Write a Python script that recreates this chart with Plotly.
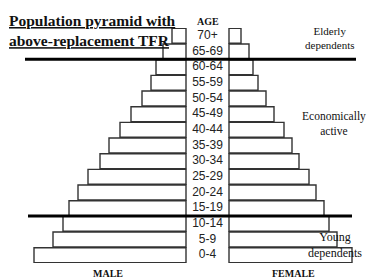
import plotly.graph_objects as go

ages = ["0-4", "5-9", "10-14", "15-19", "20-24", "25-29", "30-34", "35-39",
        "40-44", "45-49", "50-54", "55-59", "60-64", "65-69", "70+"]
male = [152, 133, 123, 117, 108, 98, 86, 77, 66, 55, 44, 35, 30, 23, 14]
female = [123, 108, 100, 95, 87, 80, 70, 63, 55, 45, 37, 29, 24, 20, 12]

rows = list(range(len(ages)))
G = 21.5  # half-width of the central label column

W, H = 369, 279
T, B = 28, 16
PH = H - T - B


def py(px):
    """pixel row from top -> paper y (paper = plot area)"""
    return (H - B - px) / PH


fig = go.Figure()
fig.add_trace(go.Bar(
    y=rows, x=[-v for v in male], base=-G, orientation="h",
    marker=dict(color="white", line=dict(color="#333", width=1.4)),
    hoverinfo="skip"))
fig.add_trace(go.Bar(
    y=rows, x=female, base=G, orientation="h",
    marker=dict(color="white", line=dict(color="#333", width=1.4)),
    hoverinfo="skip"))
fig.add_trace(go.Scatter(
    x=[0] * len(ages), y=rows, mode="text", text=ages,
    textfont=dict(family="Liberation Sans, Arial", size=12, color="#222"),
    hoverinfo="skip"))

serif = "Liberation Serif, Times New Roman"


def note(x, ypx, text, size, xref="x", xanchor="center", align="center"):
    return dict(x=x, y=py(ypx), xref=xref, yref="paper", xanchor=xanchor, yanchor="middle",
                align=align, showarrow=False, text=text,
                font=dict(family=serif, size=size, color="#111"))


ann = [
    note(7 / W, 30, "<b><u>Population pyramid with</u></b><br><b><u>above-replacement TFR</u></b>",
         15.5, xref="paper", xanchor="left", align="left"),
    note(0, 21, "<b>AGE</b>", 10),
    note(122, 38, "Elderly<br>dependents", 11),
    note(126.5, 123, "Economically<br>active", 11.5),
    note(127.5, 245, "Young<br>dependents", 12),
    note(-99.5, 273, "<b>MALE</b>", 10),
    note(85.5, 273, "<b>FEMALE</b>", 10),
]

shapes = [
    dict(type="line", xref="x", yref="y", x0=-182.5, x1=148.5, y0=12.5, y1=12.5,
         line=dict(color="black", width=3), layer="above"),
    dict(type="line", xref="x", yref="y", x0=-179.5, x1=144.5, y0=2.5, y1=2.5,
         line=dict(color="black", width=3), layer="above"),
]

fig.update_layout(
    width=W, height=H,
    margin=dict(l=0, r=0, t=T, b=B),
    paper_bgcolor="white", plot_bgcolor="white",
    barmode="overlay", bargap=0.05, showlegend=False,
    xaxis=dict(range=[-207.5, 161.5], visible=False),
    yaxis=dict(range=[-0.5, 14.5], visible=False),
    annotations=ann, shapes=shapes,
)

fig.write_html("out.html", config={"displayModeBar": False},
               post_script="document.body.style.margin='0';")
